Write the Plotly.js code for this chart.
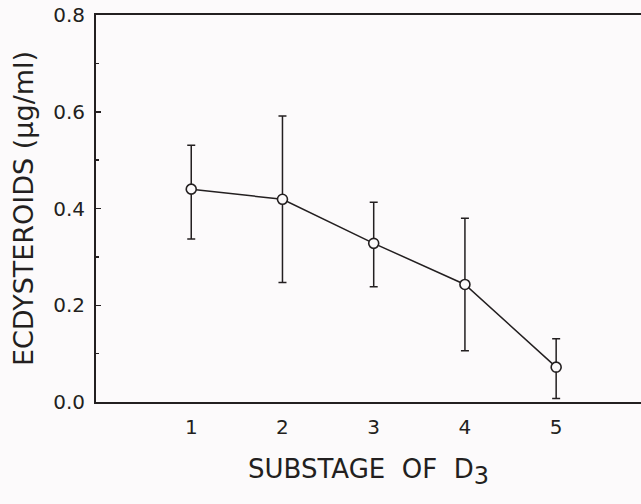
<!DOCTYPE html>
<html>
<head>
<meta charset="utf-8">
<script src="https://cdn.plot.ly/plotly-3.0.1.min.js"></script>
<style>html,body{margin:0;padding:0;background:#fcfafb;}</style>
</head>
<body>
<div id="chart" style="width:641px;height:504px;"></div>
<script>
const substages = [1, 2, 3, 4, 5];
const ecdysteroids = [0.44, 0.419, 0.328, 0.243, 0.072];
const errPlus = [0.091, 0.172, 0.085, 0.137, 0.059];
const errMinus = [0.103, 0.172, 0.090, 0.137, 0.065];
const yTickVals = [0, 0.2, 0.4, 0.6, 0.8];
const yTickText = ['0.0', '0.2', '0.4', '0.6', '0.8'];

const ink = '#231f20';
const bg = '#fcfafb';

const trace = {
  x: substages,
  y: ecdysteroids,
  type: 'scatter',
  mode: 'lines+markers',
  line: {color: ink, width: 1.5},
  marker: {symbol: 'circle', size: 10, color: bg, line: {color: ink, width: 1.6}},
  error_y: {type: 'data', symmetric: false, array: errPlus, arrayminus: errMinus,
            color: ink, thickness: 1.5, width: 4},
  cliponaxis: false,
  showlegend: false
};

const layout = {
  width: 641, height: 504,
  paper_bgcolor: bg, plot_bgcolor: bg,
  margin: {l: 96, r: 0, t: 15, b: 102},
  font: {family: 'DejaVu Sans', color: ink},
  xaxis: {
    range: [-0.044, 5.93],
    tickvals: substages,
    ticktext: substages.map(String),
    ticks: '',
    showgrid: false, zeroline: false,
    showline: true, linecolor: ink, linewidth: 2,
    mirror: true,
    ticklabelstandoff: 6,
    tickfont: {size: 20, color: ink},
    title: {text: 'SUBSTAGE\u00A0 OF\u00A0 D<sub><span style="font-size:24px">3</span></sub>', font: {size: 26, color: ink}, standoff: 22}
  },
  yaxis: {
    range: [0, 0.8],
    tickvals: yTickVals,
    ticktext: yTickText,
    ticks: 'inside', ticklen: 5, tickwidth: 1.5, tickcolor: ink,
    minor: {dtick: 0.1, ticks: 'inside', ticklen: 3, tickwidth: 1.5, tickcolor: ink},
    showgrid: false, zeroline: false,
    showline: true, linecolor: ink, linewidth: 2,
    ticklabelstandoff: 5,
    tickfont: {size: 20, color: ink},
    title: {text: 'ECDYSTEROIDS (µg/ml)', font: {size: 27, color: ink}, standoff: 12}
  }
};

Plotly.newPlot('chart', [trace], layout, {displayModeBar: false, staticPlot: true});
</script>
</body>
</html>
